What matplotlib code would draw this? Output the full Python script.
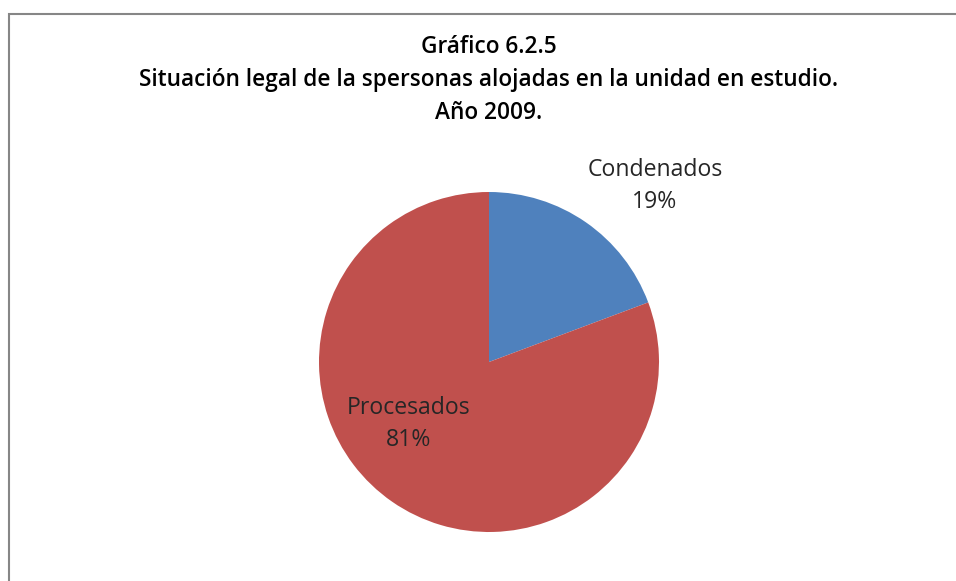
import matplotlib.pyplot as plt
from matplotlib.patches import Rectangle

plt.rcParams['font.family'] = ['Open Sans', 'DejaVu Sans']

# datos
categorias = ['Condenados', 'Procesados']
porcentajes = [19.3, 80.7]
colores = ['#4F81BD', '#C0504D']
titulo = ['Gráfico 6.2.5',
          'Situación legal de la spersonas alojadas en la unidad en estudio.',
          'Año 2009.']

W, H = 956, 581
fig = plt.figure(figsize=(W / 100, H / 100), dpi=100)

# marco del gráfico (cortado a la derecha y abajo)
fig.patches.append(Rectangle((8.5 / W, -0.1), 1.1, (H - 13.5) / H + 0.1,
                             transform=fig.transFigure, fill=False,
                             edgecolor='#868686', linewidth=1.5))

# pie centrado en (489, 362) px con radio 170 px
cx, cy, r = 489, 362, 170
ax = fig.add_axes([(cx - r) / W, (H - cy - r) / H, 2 * r / W, 2 * r / H])
ax.pie(porcentajes, colors=colores, startangle=90, counterclock=False,
       radius=1, wedgeprops=dict(linewidth=0))
ax.set_xlim(-1, 1)
ax.set_ylim(-1, 1)
ax.set_aspect('equal')
ax.axis('off')

# etiquetas
pos = [((655 - cx) / r, (cy - 186) / r), ((409 - cx) / r, (cy - 424) / r)]
for cat, p, (x, y) in zip(categorias, porcentajes, pos):
    ax.text(x, y, '%s\n%d%%' % (cat, round(p)), ha='center', va='center',
            fontsize=16.6, color='#262626', linespacing=1.5, clip_on=False)

# título
for i, linea in enumerate(titulo):
    fig.text(cx / W, 1 - (47 + 33 * i) / H, linea, ha='center', va='center',
             fontsize=16.3, fontweight='semibold', color='black')

fig.savefig('out.png', dpi=100)
